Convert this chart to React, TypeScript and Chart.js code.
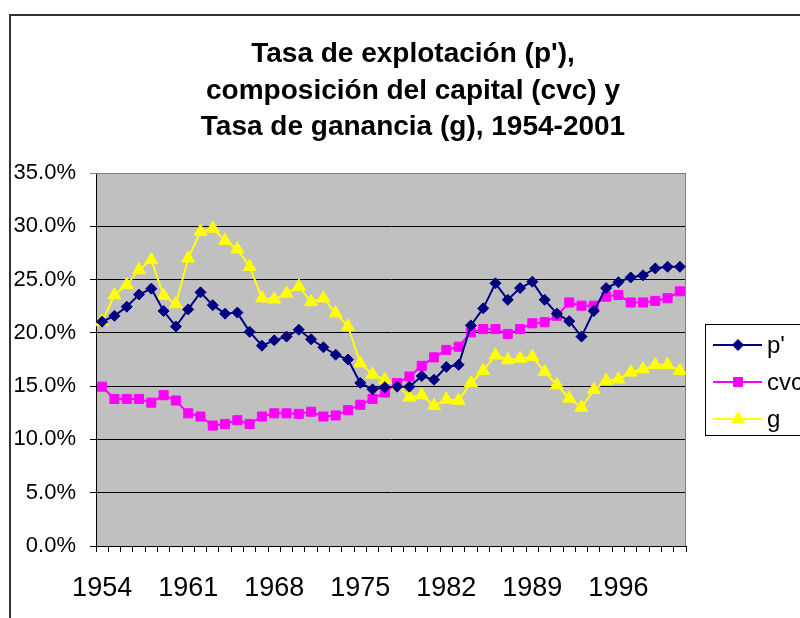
import React, { useEffect, useRef } from "react";
import { Chart, registerables } from "chart.js";

Chart.register(...registerables);

const years: string[] = [];
for (let y = 1954; y <= 2001; y++) years.push(String(y));

const tickLabelEvery = 7;

const pPrime = [
  21.05, 21.6, 22.45, 23.6, 24.15, 22.05, 20.6, 22.2, 23.8, 22.6,
  21.8, 21.9, 20.1, 18.8, 19.3, 19.65, 20.3, 19.4, 18.65, 17.95,
  17.5, 15.3, 14.7, 14.9, 14.95, 14.95, 15.95, 15.6, 16.8, 17.0,
  20.7, 22.3, 24.65, 23.1, 24.2, 24.8, 23.1, 21.8, 21.1, 19.65,
  22.05, 24.2, 24.75, 25.2, 25.4, 26.05, 26.2, 26.2,
];

const cvc = [
  14.95, 13.8, 13.8, 13.8, 13.45, 14.15, 13.65, 12.45, 12.15, 11.3,
  11.45, 11.8, 11.45, 12.15, 12.45, 12.45, 12.4, 12.6, 12.15, 12.25,
  12.75, 13.25, 13.8, 14.4, 15.3, 15.9, 16.9, 17.7, 18.4, 18.7,
  20.05, 20.35, 20.35, 19.9, 20.35, 20.9, 21.0, 21.6, 22.85, 22.55,
  22.55, 23.4, 23.55, 22.85, 22.85, 23.0, 23.25, 23.9,
];

const g = [
  21.05, 23.55, 24.5, 25.9, 26.85, 23.5, 22.7, 27.0, 29.5, 29.8,
  28.65, 27.85, 26.2, 23.25, 23.15, 23.7, 24.35, 22.9, 23.25, 21.85,
  20.6, 17.15, 16.1, 15.6, 15.1, 13.95, 14.15, 13.15, 13.75, 13.65,
  15.3, 16.45, 17.9, 17.45, 17.6, 17.75, 16.35, 15.1, 13.85, 13.0,
  14.65, 15.5, 15.65, 16.3, 16.6, 17.0, 17.0, 16.45,
];

const titleLines = [
  "Tasa de explotación (p'),",
  "composición del capital (cvc) y",
  "Tasa de ganancia (g), 1954-2001",
];

const seriesNames = ["p'", "cvc", "g"];
const seriesColors = ["#000080", "#FF00FF", "#FFFF00"];
const seriesShapes = ["rectRot", "rect", "triangle"];

const FONT = "Arial, 'Liberation Sans', sans-serif";

function drawMarker(ctx: CanvasRenderingContext2D, shape: string, x: number, y: number, color: string) {
  ctx.save();
  ctx.fillStyle = color;
  ctx.strokeStyle = color;
  ctx.lineWidth = 1;
  ctx.beginPath();
  if (shape === "rectRot") {
    const r = 5.5;
    ctx.moveTo(x, y - r);
    ctx.lineTo(x + r, y);
    ctx.lineTo(x, y + r);
    ctx.lineTo(x - r, y);
    ctx.closePath();
  } else if (shape === "rect") {
    const s = 4.5;
    ctx.rect(x - s, y - s, 2 * s, 2 * s);
  } else {
    const r = 7.5;
    ctx.moveTo(x, y - r);
    ctx.lineTo(x + r * 0.866, y + r * 0.5);
    ctx.lineTo(x - r * 0.866, y + r * 0.5);
    ctx.closePath();
  }
  ctx.fill();
  ctx.stroke();
  ctx.restore();
}

const decorPlugin = {
  id: "decor",
  beforeDraw(chart: any) {
    const ctx: CanvasRenderingContext2D = chart.ctx;
    const { left, top, right, bottom } = chart.chartArea;
    ctx.save();
    ctx.fillStyle = "#ffffff";
    ctx.fillRect(0, 0, chart.width, chart.height);
    // chart frame
    ctx.fillStyle = "#333333";
    ctx.fillRect(9, 14, chart.width, 2);
    ctx.fillRect(9, 14, 2, chart.height);
    // plot area
    ctx.fillStyle = "#C0C0C0";
    ctx.fillRect(left, top, right - left, bottom - top);
    ctx.restore();
  },
  beforeDatasetsDraw(chart: any) {
    const ctx: CanvasRenderingContext2D = chart.ctx;
    const { left, top, right, bottom } = chart.chartArea;
    ctx.save();
    ctx.strokeStyle = "#808080";
    ctx.lineWidth = 1;
    ctx.beginPath();
    ctx.moveTo(left, top + 0.5);
    ctx.lineTo(right - 0.5, top + 0.5);
    ctx.lineTo(right - 0.5, bottom);
    ctx.stroke();
    ctx.restore();
  },
  afterDraw(chart: any) {
    const ctx: CanvasRenderingContext2D = chart.ctx;
    ctx.save();
    // title
    ctx.fillStyle = "#000000";
    ctx.font = `bold 28px ${FONT}`;
    ctx.textAlign = "center";
    ctx.textBaseline = "alphabetic";
    const baselines = [62, 99, 135];
    titleLines.forEach((t, i) => ctx.fillText(t, 413, baselines[i]));
    // legend
    const lx = 705.5, ly = 324.5, lw = 130, lh = 111;
    ctx.fillStyle = "#ffffff";
    ctx.fillRect(lx, ly, lw, lh);
    ctx.strokeStyle = "#000000";
    ctx.lineWidth = 1;
    ctx.strokeRect(lx, ly, lw, lh);
    const rows = [345, 382, 419];
    ctx.font = `24px ${FONT}`;
    ctx.textAlign = "left";
    rows.forEach((ry, i) => {
      ctx.strokeStyle = seriesColors[i];
      ctx.lineWidth = 2;
      ctx.beginPath();
      ctx.moveTo(713, ry);
      ctx.lineTo(762, ry);
      ctx.stroke();
      drawMarker(ctx, seriesShapes[i], 738, ry, seriesColors[i]);
      ctx.fillStyle = "#000000";
      ctx.fillText(seriesNames[i], 767, ry + 8);
    });
    ctx.restore();
  },
};

export default function App() {
  const canvasRef = useRef<HTMLCanvasElement | null>(null);

  useEffect(() => {
    if (!canvasRef.current) return;
    const mk = (label: string, data: number[], i: number) => ({
      label,
      data: data.map((v) => v / 100),
      borderColor: seriesColors[i],
      backgroundColor: seriesColors[i],
      borderWidth: 2,
      pointStyle: seriesShapes[i],
      pointRadius: i === 0 ? 5.5 : i === 1 ? 6.4 : 7.5,
      pointBorderWidth: 1,
      pointBorderColor: seriesColors[i],
      pointBackgroundColor: seriesColors[i],
      tension: 0,
      fill: false,
    });
    const chart = new Chart(canvasRef.current, {
      type: "line",
      data: {
        labels: years,
        datasets: [mk(seriesNames[0], pPrime, 0), mk(seriesNames[1], cvc, 1), mk(seriesNames[2], g, 2)],
      },
      options: {
        animation: false,
        responsive: false,
        devicePixelRatio: 1,
        layout: { padding: { left: 0, top: 173, right: 114, bottom: 0 } },
        plugins: {
          legend: { display: false },
          title: { display: false },
          tooltip: { enabled: false },
        },
        scales: {
          x: {
            type: "category",
            offset: true,
            grid: {
              offset: true,
              drawOnChartArea: false,
              drawTicks: true,
              tickLength: 6,
              color: "#000000",
            },
            border: { color: "#000000", width: 1 },
            ticks: {
              autoSkip: false,
              maxRotation: 0,
              minRotation: 0,
              padding: 20,
              color: "#000000",
              font: { family: FONT, size: 27 },
              callback: (_v: any, idx: number) => (idx % tickLabelEvery === 0 ? years[idx] : ""),
            },
            afterFit: (s: any) => {
              s.height = 72;
            },
          },
          y: {
            min: 0,
            max: 0.35,
            grid: {
              drawTicks: true,
              tickLength: 6,
              color: (c: any) => (c.tick && Math.abs(c.tick.value - 0.35) < 1e-6 ? "#808080" : "#000000"),
            },
            border: { color: "#000000", width: 1 },
            ticks: {
              stepSize: 0.05,
              padding: 14,
              color: "#000000",
              font: { family: FONT, size: 22 },
              callback: (v: any) => (Number(v) * 100).toFixed(1) + "%",
            },
            afterFit: (s: any) => {
              s.width = 96;
            },
          },
        },
      },
      plugins: [decorPlugin],
    });
    return () => chart.destroy();
  }, []);

  return (
    <div style={{ position: "fixed", left: 0, top: 0, width: 800, height: 618 }}>
      <canvas ref={canvasRef} width={800} height={618} style={{ width: 800, height: 618 }} />
    </div>
  );
}
